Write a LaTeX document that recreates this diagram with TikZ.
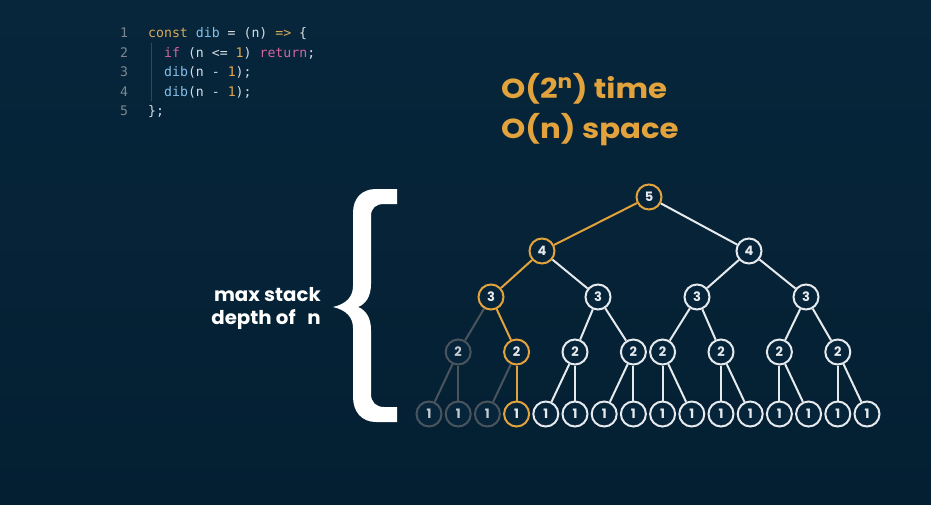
\documentclass[tikz,border=0pt]{standalone}
\usepackage{fontspec}
\usepackage{graphicx}
\setmainfont{Poppins}
\setmonofont{DejaVu Sans Mono}
\definecolor{bgtop}{HTML}{07263B}
\definecolor{bgbot}{HTML}{041F32}
\definecolor{nodefill}{HTML}{06243A}
\definecolor{wht}{HTML}{E6EAED}
\definecolor{org}{HTML}{E3A33C}
\definecolor{gry}{HTML}{4A545D}
\definecolor{grytext}{HTML}{C5CBD0}
\definecolor{lnum}{HTML}{7C8791}
\definecolor{codetxt}{HTML}{D5DDE3}
\definecolor{kw}{HTML}{D9A95E}
\definecolor{fn}{HTML}{86BFEA}
\definecolor{pk}{HTML}{D3649C}
\definecolor{num}{HTML}{E5A54B}
\definecolor{guide}{HTML}{33485A}
\tikzset{
  codeline/.style={anchor=base west, inner sep=0pt, text=codetxt, font=\ttfamily\fontsize{13.2}{14}\selectfont},
  linenum/.style={anchor=base, inner sep=0pt, text=lnum, font=\ttfamily\fontsize{13.2}{14}\selectfont},
  tn/.style={circle, draw=wht, line width=2pt, fill=nodefill, minimum size=25pt, inner sep=0pt, text=wht, font=\bfseries\fontsize{13}{13}\selectfont},
  tno/.style={tn, draw=org},
  tng/.style={tn, draw=gry, text=grytext},
  ew/.style={draw=wht, line width=2pt},
  eo/.style={draw=org, line width=2pt},
  eg/.style={draw=gry, line width=2pt},
  bigtext/.style={anchor=base west, inner sep=0pt, text=org, font=\bfseries\fontsize{27.5}{30}\selectfont},
}
\begin{document}
\begin{tikzpicture}[x=1pt,y=-1pt]
\useasboundingbox (0,0) rectangle (931,504);
\shade[top color=bgtop,bottom color=bgbot] (0,0) rectangle (931,504);

% code
\foreach \i in {1,...,5} \node[linenum] (ln\i) at (124,{37.5+19.5*(\i-1)}) {\i};
\node[codeline] (c1) at (148,37.5) {{\color{kw}const} {\color{fn}dib} = (n) {\color{kw}=>} \{};
\node[codeline] (c2) at (164,57) {{\color{pk}if} (n <= {\color{num}1}) {\color{pk}return};};
\node[codeline] (c3) at (164,76.5) {{\color{fn}dib}(n - {\color{num}1});};
\node[codeline] (c4) at (164,96) {{\color{fn}dib}(n - {\color{num}1});};
\node[codeline] (c5) at (148,115.5) {\};};
\draw[guide, line width=1pt] (151,43) -- (151,101);

% complexity
\node[bigtext] (t1) at (501,98) {\scalebox{1.12}[1]{O(2\textsuperscript{n}) time}};
\node[bigtext] (t2) at (501,138) {\scalebox{1.12}[1]{O(n) space}};

% label
\node[anchor=east, align=right, inner sep=0pt, text=white, font=\bfseries\fontsize{19}{23}\selectfont] (lbl) at (321,308) {\scalebox{1.04}[1]{max stack}\\\scalebox{1.04}[1]{depth of\hspace{0.6em}n}};

% brace
\fill[white] (397,189) -- (376,189) .. controls (362,189) and (353,198) .. (353,213) -- (353,286)
  .. controls (353,297) and (346,304) .. (333,307) .. controls (346,310) and (353,317) .. (353,328)
  -- (353,397) .. controls (353,412) and (362,422) .. (376,422) -- (397,422) -- (397,407) -- (384,407)
  .. controls (376,407) and (371,402) .. (371,394) -- (371,330) .. controls (371,318) and (366,310) .. (358,307)
  .. controls (366,304) and (371,296) .. (371,284) -- (371,216) .. controls (371,208) and (376,204) .. (384,204)
  -- (397,204) -- cycle;

% tree nodes
\node[tno] (e) at (649,197) {5};
\node[tno] (d1) at (542,251) {4};
\node[tn]  (d2) at (749,251) {4};
\node[tno] (q1) at (491,297) {3};
\node[tn]  (q2) at (598,297) {3};
\node[tn]  (q3) at (697,297) {3};
\node[tn]  (q4) at (806,297) {3};
\node[tng] (b1) at (458.2,352) {2};
\node[tno] (b2) at (516.6,352) {2};
\node[tn]  (b3) at (575,352) {2};
\node[tn]  (b4) at (633.4,352) {2};
\node[tn]  (b5) at (662.6,352) {2};
\node[tn]  (b6) at (721,352) {2};
\node[tn]  (b7) at (779.4,352) {2};
\node[tn]  (b8) at (837.8,352) {2};
\node[tng] (a1) at (429,414) {1};
\node[tng] (a2) at (458.2,414) {1};
\node[tng] (a3) at (487.4,414) {1};
\node[tno] (a4) at (516.6,414) {1};
\node[tn]  (a5) at (545.8,414) {1};
\node[tn]  (a6) at (575,414) {1};
\node[tn]  (a7) at (604.2,414) {1};
\node[tn]  (a8) at (633.4,414) {1};
\node[tn]  (a9) at (662.6,414) {1};
\node[tn]  (a10) at (691.8,414) {1};
\node[tn]  (a11) at (721,414) {1};
\node[tn]  (a12) at (750.2,414) {1};
\node[tn]  (a13) at (779.4,414) {1};
\node[tn]  (a14) at (808.6,414) {1};
\node[tn]  (a15) at (837.8,414) {1};
\node[tn]  (a16) at (867,414) {1};

% edges
\draw[eo] (e) -- (d1);
\draw[ew] (e) -- (d2);
\draw[eo] (d1) -- (q1);
\draw[ew] (d1) -- (q2);
\draw[ew] (d2) -- (q3);
\draw[ew] (d2) -- (q4);
\draw[eg] (q1) -- (b1);
\draw[eo] (q1) -- (b2);
\draw[ew] (q2) -- (b3);
\draw[ew] (q2) -- (b4);
\draw[ew] (q3) -- (b5);
\draw[ew] (q3) -- (b6);
\draw[ew] (q4) -- (b7);
\draw[ew] (q4) -- (b8);
\draw[eg] (b1) -- (a1);
\draw[eg] (b1) -- (a2);
\draw[eg] (b2) -- (a3);
\draw[eo] (b2) -- (a4);
\draw[ew] (b3) -- (a5);
\draw[ew] (b3) -- (a6);
\draw[ew] (b4) -- (a7);
\draw[ew] (b4) -- (a8);
\draw[ew] (b5) -- (a9);
\draw[ew] (b5) -- (a10);
\draw[ew] (b6) -- (a11);
\draw[ew] (b6) -- (a12);
\draw[ew] (b7) -- (a13);
\draw[ew] (b7) -- (a14);
\draw[ew] (b8) -- (a15);
\draw[ew] (b8) -- (a16);
\end{tikzpicture}
\end{document}
